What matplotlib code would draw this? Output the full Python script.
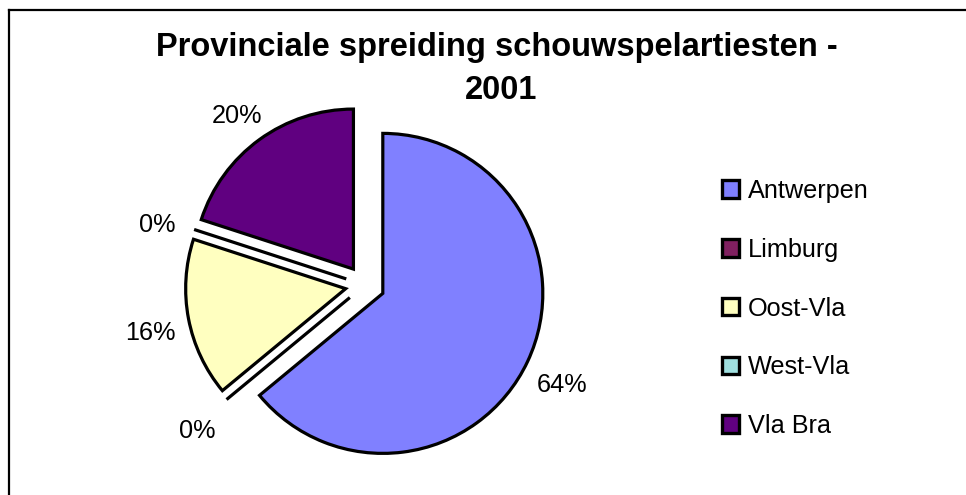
import matplotlib
matplotlib.use('Agg')
import matplotlib.pyplot as plt
from matplotlib.lines import Line2D

# Data
provinces = ['Antwerpen', 'Limburg', 'Oost-Vla', 'West-Vla', 'Vla Bra']
shares = [64, 0, 16, 0, 20]
colors = ['#8080FF', '#802060', '#FFFFC0', '#A0E0E0', '#600080']
title = 'Provinciale spreiding schouwspelartiesten - \n2001'

W, H = 966, 495
fig = plt.figure(figsize=(W / 100, H / 100), dpi=100)
fig.patch.set_facecolor('white')

# chart frame (only top and left edges are inside the picture)
fig.add_artist(Line2D([9 / W, 1.0], [1 - 10 / H, 1 - 10 / H],
                      color='black', lw=1.6, transform=fig.transFigure))
fig.add_artist(Line2D([9 / W, 9 / W], [1 - 10 / H, 0.0],
                      color='black', lw=1.6, transform=fig.transFigure))

# pie axes: centre at (365, 285) px, radius 162 px
cx, cy, r_px, half = 365, 285, 162, 200
ax = fig.add_axes([(cx - half) / W, (H - cy - half) / H,
                   2 * half / W, 2 * half / H])
lim = half / r_px
ax.set_xlim(-lim, lim)
ax.set_ylim(-lim, lim)
ax.set_aspect('equal')
ax.axis('off')

wedges, texts, autotexts = ax.pie(
    shares, colors=colors, startangle=90, counterclock=False,
    explode=[0.123] * len(shares), autopct='%1.0f%%', pctdistance=1.24,
    wedgeprops=dict(edgecolor='black', linewidth=2.3),
    textprops=dict(fontsize=18.2, family='Liberation Sans', color='black'))

# Excel puts the percentage labels a little lower than matplotlib does
for t in autotexts:
    x, y = t.get_position()
    t.set_position((x, y - 0.045))

fig.text(0.519, 1 - 32 / H, title, ha='center', va='top',
         fontsize=23.5, fontweight='bold', family='Liberation Sans',
         linespacing=1.5)

leg = fig.legend(wedges, provinces, loc='upper left',
                 bbox_to_anchor=(722 / W, 1 - 179 / H),
                 frameon=False, prop=dict(family='Liberation Sans', size=18.2),
                 handlelength=0.68, handleheight=0.68, handletextpad=0.33,
                 labelspacing=1.375, borderpad=0, borderaxespad=0)
for h in leg.legend_handles:
    h.set_linewidth(2.4)

fig.savefig('out.png', dpi=100)
